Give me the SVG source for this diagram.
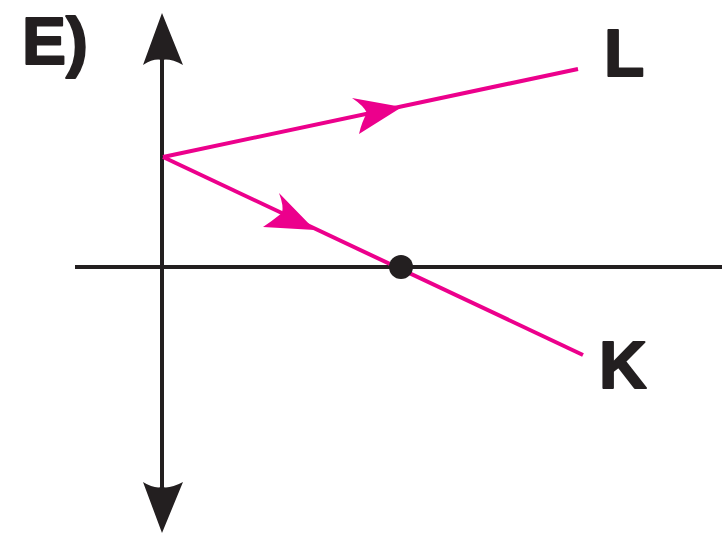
<svg xmlns="http://www.w3.org/2000/svg" width="722" height="536" viewBox="0 0 722 536">
<style>
.axis{stroke:#231f20;stroke-width:4;fill:none}
.ray{stroke:#ec008c;stroke-width:4;fill:none}
.pinkhead{fill:#ec008c}
.blackhead{fill:#231f20}
.lbl{font-family:"Liberation Sans",Arial,sans-serif;font-weight:bold;font-size:66px;fill:#231f20;stroke:#231f20;stroke-width:2;stroke-linejoin:round}
</style>
<rect width="722" height="536" fill="#ffffff"/>
<g id="axes">
<line class="axis" x1="162" y1="40" x2="162" y2="500"/>
<line class="axis" x1="75" y1="267" x2="722" y2="267"/>
<path class="blackhead" d="M162,13 L183,65 Q170,58 162,60 Q154,58 143,65 Z"/>
<path class="blackhead" d="M162,533 L183,482 Q170,489 162,487 Q154,489 143,482 Z"/>
</g>
<g id="connectors">
<line class="ray" x1="163" y1="157" x2="578" y2="69"/>
<line class="ray" x1="163" y1="157" x2="583" y2="355"/>
<path class="pinkhead" d="M402,107 L352,98 Q364,106 367,113 Q362,121 359,134 Z"/>
<path class="pinkhead" d="M315,230 L279,193 Q284,206 282,213 Q272,221 263,227 Z"/>
</g>
<g id="point">
<circle cx="401" cy="267" r="12" fill="#231f20"/>
</g>
<g id="label-E"><text class="lbl" x="22" y="64">E)</text></g>
<g id="label-L"><text class="lbl" x="604" y="76">L</text></g>
<g id="label-K"><text class="lbl" x="599" y="388">K</text></g>
</svg>
